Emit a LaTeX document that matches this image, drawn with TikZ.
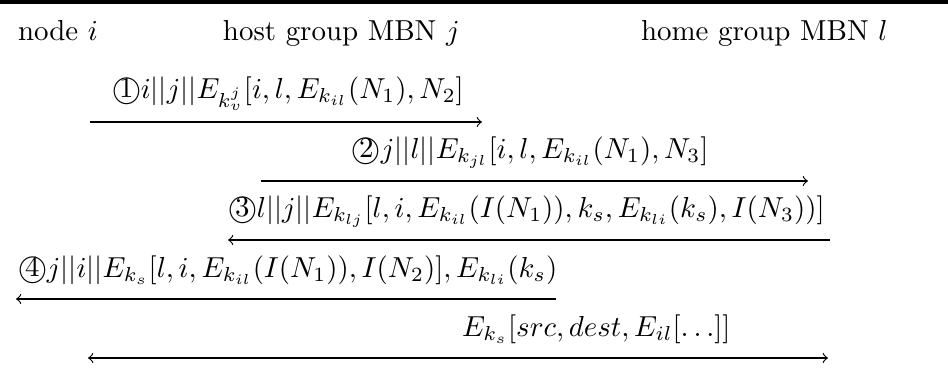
\documentclass[tikz,border=0pt]{standalone}
\usepackage{amsmath}
\usetikzlibrary{arrows}
\begin{document}
\begin{tikzpicture}[x=0.346pt,y=-0.346pt,
  lbl/.style={anchor=base west,inner sep=0pt,outer sep=0pt},
  msg/.style={line width=0.4pt,->,>=to},
  msgl/.style={line width=0.4pt,<-,>=to},
  msgb/.style={line width=0.4pt,<->,>=to}]
\useasboundingbox (0,0) rectangle (948,370);
\draw[line width=1.2pt] (0,2) -- (948,2);
% headers
\node[lbl] (hi) at (18,40) {node $i$};
\node[lbl] (hj) at (223,40) {host group MBN $j$};
\node[lbl] (hl) at (641,40) {home group MBN $l$};
% labels
\node[lbl] (m1) at (112,98) {$\textcircled{1}i||j||E_{k_v^j}[i,l,E_{k_{il}}(N_1),N_2]$};
\node[lbl] (m2) at (352,158) {$\textcircled{2}j||l||E_{k_{jl}}[i,l,E_{k_{il}}(N_1),N_3]$};
\node[lbl] (m3) at (228,217) {$\textcircled{3}l||j||E_{k_{lj}}[l,i,E_{k_{il}}(I(N_1)),k_s,E_{k_{li}}(k_s),I(N_3))]$};
\node[lbl] (m4) at (18,277) {$\textcircled{4}j||i||E_{k_s}[l,i,E_{k_{il}}(I(N_1)),I(N_2)],E_{k_{li}}(k_s)$};
\node[lbl] (m5) at (462,336) {$E_{k_s}[src,dest,E_{il}[\ldots]]$};
% arrow ends
\coordinate (a1s) at (90,122);  \coordinate (a1e) at (482,122);
\coordinate (a2s) at (261,181); \coordinate (a2e) at (808,181);
\coordinate (a3s) at (228,240); \coordinate (a3e) at (830,240);
\coordinate (a4s) at (16,299);  \coordinate (a4e) at (556,299);
\coordinate (a5s) at (88,358);  \coordinate (a5e) at (828,358);
\draw[msg] (a1s) -- (a1e);
\draw[msg] (a2s) -- (a2e);
\draw[msgl] (a3s) -- (a3e);
\draw[msgl] (a4s) -- (a4e);
\draw[msgb] (a5s) -- (a5e);
\end{tikzpicture}
\end{document}
